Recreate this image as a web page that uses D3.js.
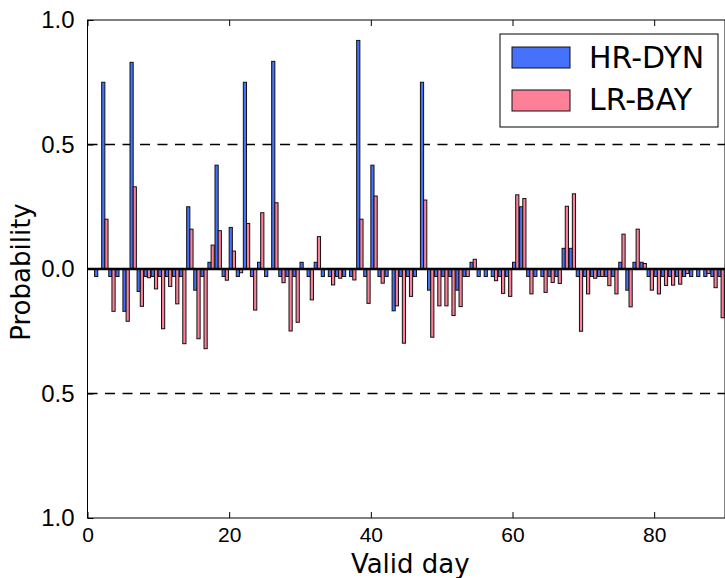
<!DOCTYPE html>
<html>
<head>
<meta charset="utf-8">
<script src="https://cdn.jsdelivr.net/npm/d3@7"></script>
<style>
  body { margin: 0; background: #fff; }
  svg { display: block; font-family: "DejaVu Sans", sans-serif; }
</style>
</head>
<body>
<svg id="chart" width="725" height="578"></svg>
<script>
// days 1..89, one value per day
const days = d3.range(1, 90);

const hrDyn = [
  -0.03, 0.75, -0.03, -0.03, -0.17, 0.83, -0.09, -0.03, -0.03, -0.03,
  -0.03, -0.03, -0.03, 0.25, -0.085, -0.03, 0.027, 0.417, -0.03, 0.167,
  -0.03, 0.75, -0.03, 0.027, -0.03, 0.834, -0.03, -0.03, -0.03, 0.027,
  -0.03, 0.027, -0.03, -0.03, -0.03, -0.03, -0.03, 0.918, -0.03, 0.417,
  -0.03, -0.03, -0.168, -0.03, -0.03, -0.03, 0.75, -0.085, -0.03, -0.03,
  -0.03, -0.085, -0.03, 0.027, -0.03, -0.03, -0.03, -0.03, -0.03, 0.027,
  0.25, -0.03, -0.03, -0.03, -0.03, -0.03, 0.083, 0.083, -0.03, -0.03,
  -0.03, -0.03, -0.03, -0.03, 0.027, -0.085, 0.027, 0.027, -0.03, -0.03,
  -0.03, -0.03, -0.03, -0.03, -0.03, -0.03, -0.03, -0.03, -0.03
];

const lrBay = [
  0, 0.20, -0.17, 0, -0.21, 0.33, -0.15, -0.035, -0.08, -0.24,
  -0.07, -0.14, -0.30, 0.16, -0.28, -0.32, 0.096, 0.154, -0.045, 0.072,
  -0.015, 0.183, -0.165, 0.226, 0, 0.266, -0.055, -0.249, -0.214, 0,
  -0.124, 0.13, 0, -0.064, -0.037, 0, -0.044, 0.2, -0.138, 0.293,
  -0.057, 0, -0.148, -0.298, -0.11, 0, 0.277, -0.274, -0.148, -0.148,
  -0.187, -0.151, -0.03, 0.039, 0, 0, -0.047, -0.098, -0.11, 0.298,
  0.283, -0.10, 0, -0.094, -0.054, -0.058, 0.252, 0.302, -0.25, -0.10,
  -0.037, -0.03, -0.067, -0.10, 0.14, -0.152, 0.16, 0.022, -0.085, -0.10,
  -0.066, -0.065, -0.061, -0.018, 0, 0, -0.018, -0.075, -0.196
];

const xTicks = [0, 20, 40, 60, 80];
const yTicks = [-1, -0.5, 0, 0.5, 1];
const seriesNames = ["HR-DYN", "LR-BAY"];
const colors = ["#4672fb", "#fd8098"];

const barW = 0.45;
const margin = { top: 20, right: 0, bottom: 60, left: 87.5 };
const width = 725 - margin.left - margin.right;
const height = 578 - margin.top - margin.bottom;

const svg = d3.select("#chart")
  .append("g")
  .attr("transform", `translate(${margin.left},${margin.top})`);

const x = d3.scaleLinear().domain([0, 90]).range([0, width]);
const y = d3.scaleLinear().domain([-1, 1]).range([height, 0]);

// dashed guides at +/-0.5
svg.selectAll(".guide")
  .data([0.5, -0.5])
  .enter()
  .append("line")
  .attr("x1", 0)
  .attr("x2", width)
  .attr("y1", (d) => y(d))
  .attr("y2", (d) => y(d))
  .attr("stroke", "#000")
  .attr("stroke-width", 1.3)
  .attr("stroke-dasharray", "10,7.5");

// bars, blue at the day, pink right next to it
const series = [hrDyn, lrBay];
series.forEach((vals, s) => {
  svg.append("g")
    .selectAll("rect")
    .data(days.map((d, i) => ({ day: d, v: vals[i] })))
    .enter()
    .append("rect")
    .attr("x", (d) => x(d.day + s * barW))
    .attr("width", x(barW) - x(0))
    .attr("y", (d) => y(Math.max(0, d.v)))
    .attr("height", (d) => Math.abs(y(d.v) - y(0)))
    .attr("fill", colors[s])
    .attr("stroke", "#111")
    .attr("stroke-width", 1);
});

// zero line
svg.append("line")
  .attr("x1", 0)
  .attr("x2", width)
  .attr("y1", y(0))
  .attr("y2", y(0))
  .attr("stroke", "#000")
  .attr("stroke-width", 2.6);

// frame
svg.append("rect")
  .attr("width", width)
  .attr("height", height)
  .attr("fill", "none")
  .attr("stroke", "#000")
  .attr("stroke-width", 1);

// axes with inward ticks
const fmtY = (d) => Math.abs(d).toFixed(1);

const xAxis = svg.append("g")
  .attr("transform", `translate(0,${height})`)
  .call(d3.axisBottom(x).tickValues(xTicks).tickSizeInner(-6).tickSizeOuter(0).tickPadding(9));
xAxis.select(".domain").remove();
xAxis.selectAll("text").style("font-size", "21px").attr("fill", "#000");

svg.append("g")
  .call(d3.axisTop(x).tickValues(xTicks).tickSizeInner(-6).tickSizeOuter(0).tickFormat(""))
  .select(".domain").remove();

const yAxis = svg.append("g")
  .call(d3.axisLeft(y).tickValues(yTicks).tickSizeInner(-6).tickSizeOuter(0).tickPadding(13).tickFormat(fmtY));
yAxis.select(".domain").remove();
yAxis.selectAll("text").style("font-size", "24px").attr("fill", "#000");

// axis labels
svg.append("text")
  .attr("x", width / 2 + 4)
  .attr("y", height + 55)
  .attr("text-anchor", "middle")
  .style("font-size", "26px")
  .text("Valid day");

svg.append("text")
  .attr("transform", `translate(${30 - margin.left},${y(0) + 3}) rotate(-90)`)
  .attr("text-anchor", "middle")
  .style("font-size", "26px")
  .text("Probability");

// legend
const legend = svg.append("g").attr("transform", `translate(${500 - margin.left},${34 - margin.top})`);
legend.append("rect")
  .attr("width", 218)
  .attr("height", 93)
  .attr("fill", "#fff")
  .attr("stroke", "#000")
  .attr("stroke-width", 1);

seriesNames.forEach((name, i) => {
  legend.append("rect")
    .attr("x", 12)
    .attr("y", 13 + i * 43)
    .attr("width", 58)
    .attr("height", 21)
    .attr("fill", colors[i])
    .attr("stroke", "#111")
    .attr("stroke-width", 1);
  legend.append("text")
    .attr("x", 89)
    .attr("y", 34 + i * 42)
    .style("font-size", "30px")
    .text(name);
});
</script>
</body>
</html>
